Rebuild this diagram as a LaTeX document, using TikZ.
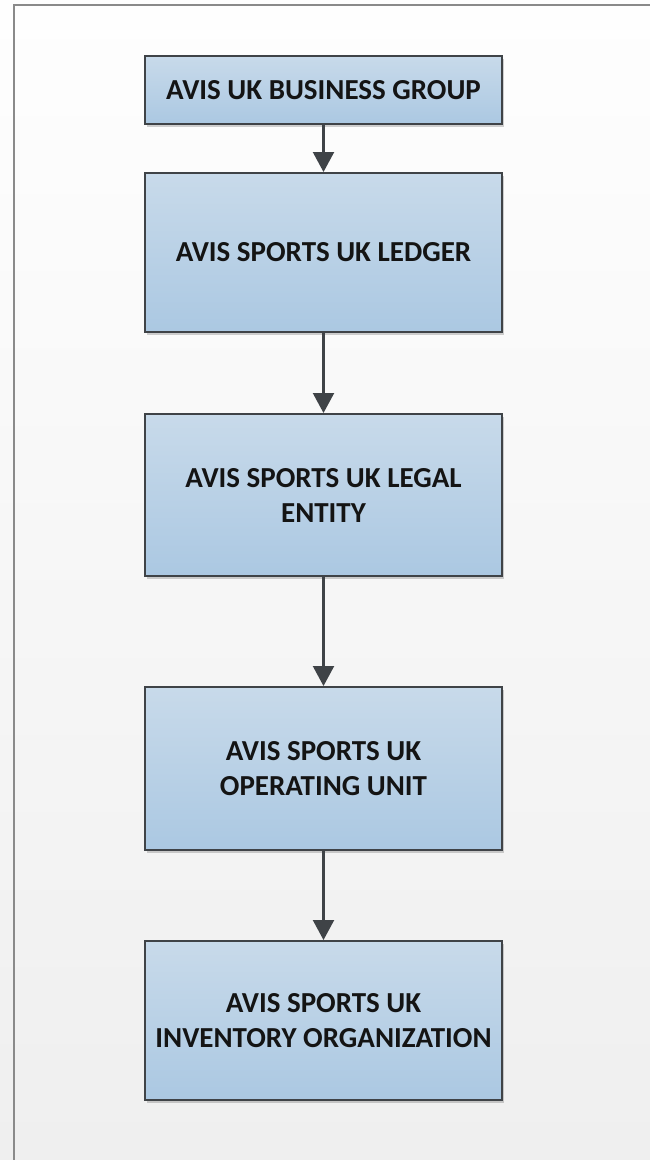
\documentclass[tikz,border=0pt]{standalone}
\usepackage{fontspec}
\setmainfont{Carlito}
\usetikzlibrary{arrows.meta,shadows}
\definecolor{boxtop}{HTML}{C8DAEA}
\definecolor{boxbot}{HTML}{ABC8E2}
\definecolor{edge}{HTML}{3F4347}
\definecolor{pagetop}{HTML}{FEFEFE}
\definecolor{pagebot}{HTML}{EFEFEF}
\definecolor{frame}{HTML}{8A8A8A}
\tikzset{
  orgbox/.style={draw=edge, line width=2bp, top color=boxtop, bottom color=boxbot,
    minimum width=357bp, align=center, text=black!92,
    font=\bfseries\fontsize{29bp}{35bp}\selectfont,
    drop shadow={shadow xshift=2bp, shadow yshift=-3bp, opacity=0.18, fill=black}},
  link/.style={draw=edge, line width=2.2bp, -{Triangle[length=20bp,width=21bp]}}
}
\begin{document}
\begin{tikzpicture}[x=1bp,y=-1bp]
  \useasboundingbox (0,0) rectangle (650,1160);
  % page background and its frame
  \shade[top color=pagetop, bottom color=pagebot] (0,0) rectangle (650,1160);
  \draw[frame, line width=2bp] (14,1160) -- (14,5) -- (650,5);
  % hierarchy boxes
  \node[orgbox, minimum height=68bp]  (bg)  at (323.5,90)   {AVIS UK BUSINESS GROUP};
  \node[orgbox, minimum height=159bp] (led) at (323.5,252.5) {AVIS SPORTS UK LEDGER};
  \node[orgbox, minimum height=162bp] (le)  at (323.5,495)  {AVIS SPORTS UK LEGAL\\ENTITY};
  \node[orgbox, minimum height=163bp] (ou)  at (323.5,768.5) {AVIS SPORTS UK\\OPERATING UNIT};
  \node[orgbox, minimum height=159bp] (inv) at (323.5,1020.5) {AVIS SPORTS UK\\INVENTORY ORGANIZATION};
  % connectors
  \draw[link] (bg) -- (led);
  \draw[link] (led) -- (le);
  \draw[link] (le) -- (ou);
  \draw[link] (ou) -- (inv);
\end{tikzpicture}
\end{document}
